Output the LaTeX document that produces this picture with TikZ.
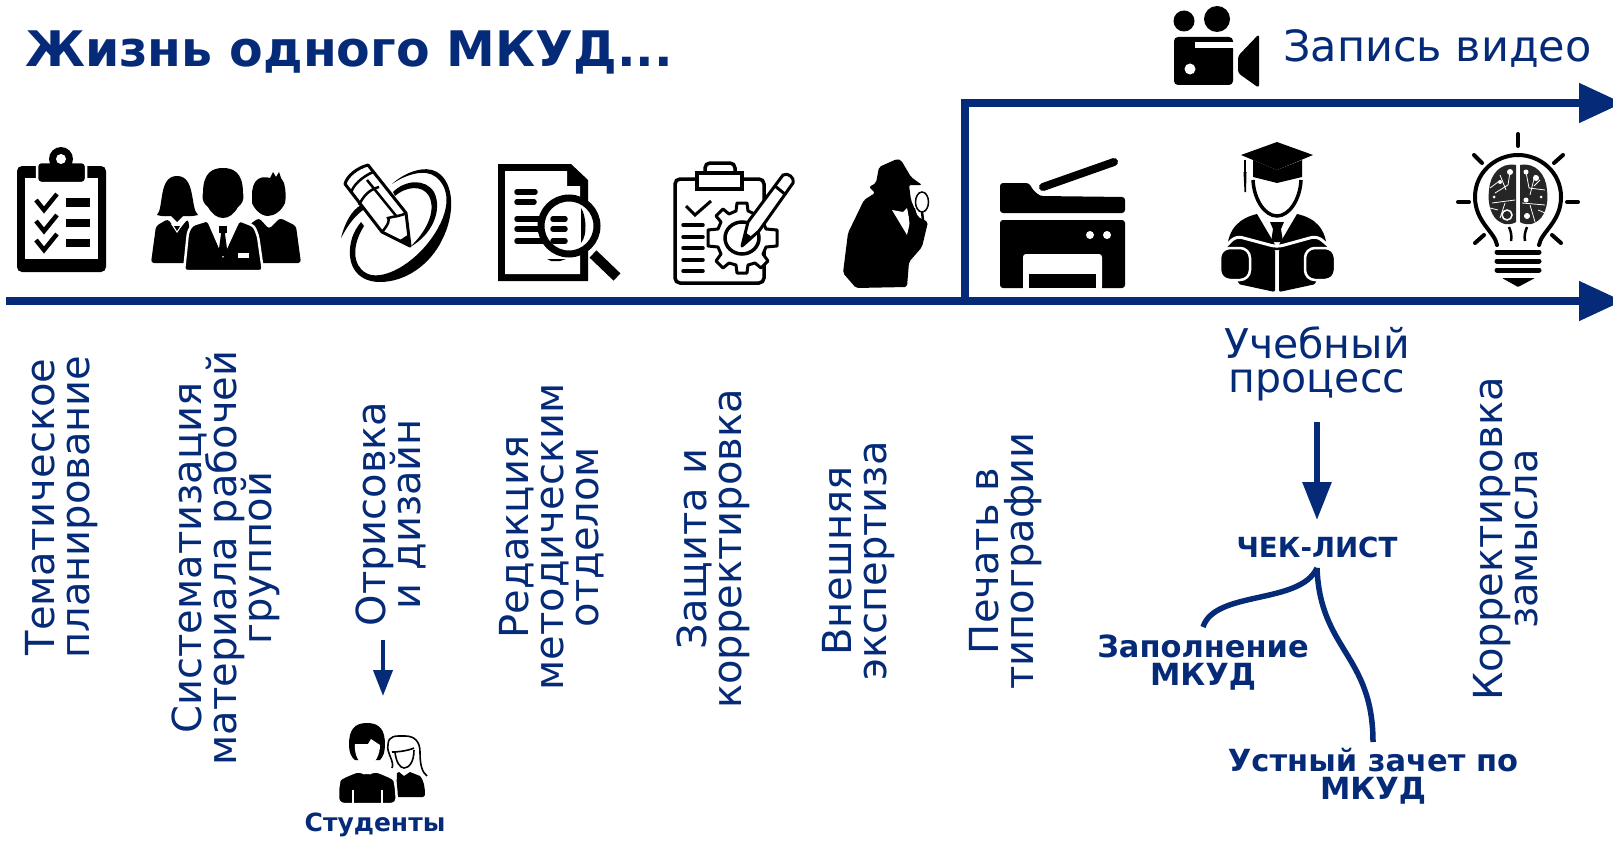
\documentclass[tikz,border=0pt]{standalone}
\usepackage{fontspec}
\setmainfont{DejaVu Sans}
\usetikzlibrary{arrows.meta}
\definecolor{navy}{HTML}{042A78}
\tikzset{
  vlab/.style={rotate=90,align=center,text=navy,inner sep=0pt,execute at begin node={\lineskiplimit=-100pt\relax},font=\fontsize{40}{35}\selectfont},
  hlab/.style={align=center,text=navy,inner sep=0pt,execute at begin node={\lineskiplimit=-100pt\relax},font=\fontsize{41}{34}\selectfont},
  blab/.style={align=center,text=navy,inner sep=0pt,execute at begin node={\lineskiplimit=-100pt\relax},font=\fontsize{30.5}{28}\bfseries\selectfont},
  mainline/.style={draw=navy,line width=8pt,-{Triangle[length=44pt,width=38pt]}},
  downarrow/.style={draw=navy,line width=6pt,-{Triangle[length=38pt,width=28pt]}},
  smallarrow/.style={draw=navy,line width=4pt,-{Triangle[length=26pt,width=19pt]}},
  branch/.style={draw=navy,line width=5.5pt},
  wgap/.style={draw=white,line width=2.5pt,fill=black},
}
\begin{document}
\begin{tikzpicture}[x=1pt,y=-1pt]
\useasboundingbox (0,0) rectangle (1613,840);
% title and labels
\node[anchor=base west,text=navy,inner sep=0pt,font=\fontsize{49}{49}\bfseries\selectfont] (title) at (25,67) {Жизнь одного МКУД...};
\node[anchor=west,text=navy,inner sep=0pt,font=\fontsize{43}{43}\selectfont] (video) at (1283,49) {Запись видео};
\node[vlab] (l1) at (62,507) {Тематическое\\планирование};
\node[vlab] (l2) at (226,558) {Систематизация\\материала рабочей\\группой};
\node[vlab] (l3) at (391,514) {Отрисовка\\и дизайн};
\node[vlab] (l4) at (552,537) {Редакция\\методическим\\отделом};
\node[vlab] (l5) at (713,549) {Защита и\\корректировка};
\node[vlab] (l6) at (859,561) {Внешняя\\экспертиза};
\node[vlab] (l7) at (1006,561) {Печать в\\типографии};
\node[vlab] (l8) at (1506,539) {Корректировка\\замысла};
\node[hlab] (proc) at (1317,364) {Учебный\\процесс};
\node[blab,font=\fontsize{27.7}{28}\bfseries\selectfont] (chek) at (1317,547) {ЧЕК-ЛИСТ};
\node[blab] (zap) at (1203,663) {Заполнение\\МКУД};
\node[blab] (ust) at (1373,776) {Устный зачет по\\МКУД};
\node[text=navy,inner sep=0pt,font=\fontsize{25}{25}\bfseries\selectfont] (stud) at (375,825) {Студенты};
% main lines
\coordinate (a0) at (6,301);
\coordinate (a1) at (1623,301);
\coordinate (b0) at (965,301);
\coordinate (b1) at (965,103);
\coordinate (b2) at (1623,103);
\draw[mainline] (a0) -- (a1);
\draw[mainline] (b0) -- (b1) -- (b2);
% connectors
\coordinate (p1) at (1317,422);
\coordinate (p2) at (1317,520);
\draw[downarrow] (p1) -- (p2);
\coordinate (c0) at (1317,568);
\coordinate (c1) at (1203,627);
\coordinate (c2) at (1373,742);
\draw[branch] (c1) .. controls (1215,590) and (1300,605) .. (c0);
\draw[branch] (c0) .. controls (1320,650) and (1373,655) .. (c2);
\coordinate (s1) at (383,640);
\coordinate (s2) at (383,696);
\draw[smallarrow] (s1) -- (s2);
% ---- video camera
\fill (1184,21) circle[radius=10.5];
\fill (1217,19) circle[radius=13];
\fill[rounded corners=4pt] (1174,37) rectangle (1233,85);
\fill[white] (1195,42) rectangle (1234,48);
\fill[white] (1190,69) circle[radius=5.5];
\fill[rounded corners=3pt] (1238,56) -- (1259,34) -- (1259,88) -- (1238,73) -- cycle;
% ---- clipboard
\fill[rounded corners=5pt] (17,166) rectangle (106,272);
\fill[white] (25,178) rectangle (98,259);
\draw[wgap,rounded corners=4pt] (37,162) rectangle (86,183);
\fill (61,159) circle[radius=12];
\fill[white] (61,159) circle[radius=5];
\foreach \yy in {193,214,233}{
  \draw[line width=4.5pt] (36,\yy+7) -- (44,\yy+17) -- (57,\yy+1);
}
\fill (66,198) rectangle (90,207);
\fill (66,219) rectangle (90,227);
\fill (66,239) rectangle (90,247);
% ---- three people
\fill[rounded corners=3pt] (151,263) -- (156,226) -- (168,219) -- (177,232) -- (188,219) -- (195,263) -- cycle;
\fill[rounded corners=3pt] (253,263) -- (250,224) -- (259,218) -- (269,229) -- (280,218) -- (296,226) -- (301,263) -- cycle;
\fill[white] (171,224) -- (177,233) -- (183,224) -- cycle;
\fill (174,226) -- (177,231) -- (180,226) -- cycle;
\fill (157,215) .. controls (164,208) and (158,176) .. (177,176) .. controls (196,176) and (190,208) .. (198,215) .. controls (190,217) and (186,216) .. (183,216) -- (177,222) -- (171,216) .. controls (168,216) and (164,217) .. (157,215) -- cycle;
\fill (252,195) .. controls (252,180) and (260,175) .. (270,178) -- (273,172) -- (276,177) -- (279,172) -- (281,178) -- (284,183) .. controls (286,190) and (286,198) .. (285,203) .. controls (282,210) and (275,216) .. (268,216) .. controls (260,216) and (254,208) .. (252,203) -- cycle;
\draw[wgap,rounded corners=3pt] (184,271) -- (188,232) -- (192,225) -- (208,220) -- (223,254) -- (239,220) -- (254,226) -- (258,236) -- (263,271) -- cycle;
\fill (203,193) .. controls (203,172) and (213,168) .. (223,168) .. controls (233,168) and (243,172) .. (243,193) .. controls (245,200) and (241,205) .. (238,207) .. controls (234,214) and (229,218) .. (223,218) .. controls (217,218) and (212,214) .. (208,207) .. controls (205,205) and (201,200) .. (203,193) -- cycle;
\fill[white] (208,221) -- (223,258) -- (239,221) -- (230,218) -- (216,218) -- cycle;
\fill (219,228) -- (227,228) -- (225,234) -- (228,256) -- (218,256) -- (221,234) -- cycle;
\fill (219,226) rectangle (227,233);
\fill[white] (238,253) rectangle (249,258);
% ---- pencil and loop
\fill (392,184) .. controls (405,172) and (425,165) .. (437,172) .. controls (455,183) and (455,215) .. (442,240) .. controls (430,265) and (405,282) .. (380,282) .. controls (355,282) and (345,262) .. (352,238) .. controls (354,232) and (357,227) .. (361,222) -- (364,226) .. controls (352,245) and (352,265) .. (366,273) .. controls (380,281) and (408,268) .. (428,243) .. controls (450,215) and (452,190) .. (436,177) .. controls (425,168) and (405,175) .. (392,184) -- cycle;
\fill (393,192) .. controls (405,180) and (425,178) .. (434,192) .. controls (443,210) and (432,235) .. (410,247) .. controls (425,233) and (437,212) .. (429,196) .. controls (422,184) and (405,187) .. (395,196) -- cycle;
\fill (341,238) .. controls (345,222) and (352,210) .. (361,205) -- (366,208) .. controls (355,215) and (348,225) .. (341,238) -- cycle;
\draw[line width=3pt,fill=white,line join=round] (345,184) .. controls (347,176) and (357,168) .. (368,165) -- (406,213) -- (410,246) -- (382,232) -- cycle;
\draw[line width=2.5pt] (351,193) .. controls (353,185) and (362,177) .. (373,172);
\draw[line width=2.5pt] (359,205) .. controls (363,197) and (368,190) .. (379,187);
\draw[line width=2.5pt] (367,180) -- (397,217);
\draw[line width=2.5pt] (382,232) .. controls (388,225) and (390,220) .. (388,218) .. controls (395,216) and (402,216) .. (406,213);
\fill (400,240) -- (410,247) -- (409,234) -- cycle;
% ---- document with magnifier
\fill (498,164) -- (571,164) -- (588,180) -- (588,281) -- (498,281) -- cycle;
\fill[white] (505,171) -- (567,171) -- (567,186) -- (580,186) -- (580,274) -- (505,274) -- cycle;
\begin{scope}[line width=5.5pt,line cap=round]
\draw (517,192) -- (535,192);
\draw (517,202) -- (534,202);
\draw (517,219) -- (550,219);
\draw (517,229) -- (550,229);
\draw (517,241) -- (550,241);
\end{scope}
\draw[line width=10pt] (593,254) -- (617,277);
\draw[line width=7pt,fill=white] (569,226) ellipse[x radius=28,y radius=28];
\begin{scope}[line width=5.5pt,line cap=round]
\draw (553,219) -- (565,219);
\draw (553,229) -- (565,229);
\draw (553,241) -- (565,241);
\end{scope}
\fill (581,208) .. controls (586,215) and (588,235) .. (581,243) -- cycle;
\fill (547,259) -- (566,259) -- (560,261) -- (551,261) -- cycle;
% ---- clipboard with gear
\draw[line width=3.5pt,rounded corners=5pt] (675,179) rectangle (764,283);
\draw[line width=3.5pt,fill=white] (697,173) rectangle (742,189);
\draw[line width=3.5pt,rounded corners=5pt] (705,173) -- (705,163) -- (735,163) -- (735,173);
\draw[line width=3pt] (686,206) -- (695,215) -- (711,201);
\begin{scope}[line width=3.5pt,line cap=round]
\foreach \yy in {225,237,248,260,271}{\draw (683,\yy) -- (703,\yy);}
\end{scope}
\draw[line width=3pt,fill=white,line join=round]
 (737,203) -- (747,203) -- (748,211) -- (755,214) -- (761,209) -- (768,216) -- (763,222) -- (766,229) -- (777,230) -- (777,246) -- (766,247) -- (763,254) -- (768,261) -- (761,268) -- (755,263) -- (748,265) -- (747,273) -- (737,273) -- (736,265) -- (729,263) -- (723,268) -- (716,261) -- (721,254) -- (718,247) -- (708,246) -- (708,230) -- (718,229) -- (721,222) -- (716,216) -- (723,209) -- (729,214) -- (736,211) -- cycle;
\draw[line width=3.5pt] (742,238) ellipse[x radius=17,y radius=16];
\draw[line width=3pt,fill=white,line join=round] (742,246) -- (748,222) -- (783,175) .. controls (788,172) and (795,178) .. (793,183) -- (759,231) -- cycle;
\draw[line width=3pt] (775,186) -- (786,195);
\fill (742,246) -- (746,233) -- (752,237) -- cycle;
% ---- detective
\fill[rounded corners=2pt] (897,159) -- (879,167) -- (876,183) -- (869,187) -- (875,193) -- (864,200) -- (848,233) -- (843,273) -- (856,288) -- (907,287) -- (909,262) -- (922,247) -- (928,222) -- (918,217) -- (911,200) -- (909,185) -- (922,185) -- (911,177) -- (901,160) -- cycle;
\fill[white] (892,210) -- (907,235) -- (910,222) -- (907,208) -- (903,212) -- cycle;
\fill (908,209) -- (915,208) -- (918,222) -- (910,228) -- cycle;
\draw[line width=1.5pt,fill=white] (922,202) ellipse[x radius=6.5,y radius=10];
\draw[line width=2.5pt] (922,212) -- (923,220);
% ---- printer
\fill[rounded corners=3pt] (1000,213) -- (1000,183) -- (1029,183) -- (1033,190) -- (1040,196) -- (1125,197) -- (1125,213) -- cycle;
\draw[line width=8pt,line cap=round] (1043,187) -- (1114,162);
\fill[rounded corners=3pt] (1000,220) -- (1125,220) -- (1125,288) -- (1000,288) -- cycle;
\fill[white,rounded corners=3pt] (1023,289) -- (1023,254) -- (1102,254) -- (1102,289) -- cycle;
\fill[white] (1023,284) rectangle (1102,289);
\fill (1029,274) rectangle (1096,288);
\fill[white] (1090,235) circle[radius=4];
\fill[white] (1107,235) circle[radius=4];
% ---- graduate reader
\fill (1241,155) -- (1277,142) -- (1313,155) -- (1277,170) -- cycle;
\fill (1253,160) -- (1253,177) -- (1277,183) -- (1302,177) -- (1302,160) -- (1277,170) -- cycle;
\draw[line width=1.5pt] (1245,160) -- (1245,172);
\fill (1243.5,172) -- (1246.5,172) -- (1246,192) -- (1244.5,192) -- cycle;
\draw[line width=3.5pt] (1253,180) .. controls (1254,200) and (1265,216) .. (1277,216) .. controls (1289,216) and (1300,200) .. (1301,180);
\fill (1227,250) .. controls (1228,228) and (1240,218) .. (1257,214) -- (1277,248) -- (1297,214) .. controls (1315,218) and (1326,228) .. (1327,250) -- cycle;
\fill (1270,222) -- (1284,222) -- (1281,229) -- (1283,242) -- (1271,242) -- (1273,229) -- cycle;
\draw[white,line width=3pt,rounded corners=6pt] (1225,247) -- (1236,236) -- (1277,247) -- (1317,236) -- (1330,247);
\fill[rounded corners=2pt] (1236,239) -- (1275,249) -- (1275,292) -- (1238,284) -- cycle;
\fill[rounded corners=2pt] (1318,239) -- (1279,249) -- (1279,292) -- (1316,284) -- cycle;
\draw[wgap,rounded corners=10pt] (1220,248) rectangle (1250,280);
\draw[wgap,rounded corners=10pt] (1305,248) rectangle (1335,280);
% ---- bulb
\begin{scope}[line cap=round]
\draw[line width=4pt] (1518,134) -- (1518,146);
\draw[line width=4pt] (1458,202) -- (1469,202);
\draw[line width=4pt] (1567,202) -- (1578,202);
\draw[line width=4pt] (1474,155) -- (1482,163);
\draw[line width=4pt] (1563,155) -- (1554,163);
\draw[line width=4pt] (1475,243) -- (1484,235);
\draw[line width=4pt] (1561,243) -- (1552,235);
\draw[line width=4pt] (1497,245) .. controls (1495,232) and (1475,222) .. (1475,197) .. controls (1475,172) and (1496,155) .. (1518,155) .. controls (1540,155) and (1561,172) .. (1561,197) .. controls (1561,222) and (1541,232) .. (1539,245);
\draw[line width=5pt] (1497,252) -- (1539,252);
\draw[line width=5pt] (1497,261) -- (1539,261);
\draw[line width=5pt] (1497,270) -- (1539,270);
\end{scope}
\fill[rounded corners=1pt] (1502,278) -- (1535,278) -- (1518,287) -- cycle;
\fill[black!85] (1516,165) .. controls (1500,162) and (1490,175) .. (1489,190) .. controls (1487,205) and (1492,218) .. (1500,222) .. controls (1505,226) and (1514,224) .. (1516,222) -- cycle;
\fill[black!85] (1520,165) .. controls (1536,162) and (1546,175) .. (1547,190) .. controls (1549,205) and (1544,218) .. (1536,222) .. controls (1531,226) and (1522,224) .. (1520,222) -- cycle;
\draw[line width=2.5pt] (1509,227) .. controls (1511,232) and (1512,236) .. (1511,241);
\draw[line width=2.5pt] (1527,227) .. controls (1525,232) and (1524,236) .. (1525,241);
\begin{scope}[white,line width=0.8pt]
\draw (1510,172) -- (1508,185) -- (1495,193);
\draw (1500,175) -- (1506,190);
\draw (1498,182) -- (1490,188);
\draw (1515,200) -- (1492,203);
\draw (1505,203) -- (1500,218);
\draw (1498,210) -- (1490,208);
\draw (1526,172) -- (1529,188) -- (1545,190);
\draw (1535,175) -- (1530,195);
\draw (1540,180) -- (1534,186);
\draw (1522,203) -- (1545,205);
\draw (1530,205) -- (1535,222);
\draw (1538,210) -- (1545,213);
\fill[white] (1510,172) circle[radius=3];
\fill[white] (1526,172) circle[radius=2.5];
\fill[white] (1536,178) circle[radius=3];
\fill[white] (1526,200) circle[radius=2.5];
\fill[white] (1527,216) circle[radius=3];
\fill[white] (1500,182) circle[radius=2];
\fill[white] (1494,197) circle[radius=1.5];
\fill[white] (1541,197) circle[radius=1.5];
\draw[line width=1.5pt] (1507,215) circle[radius=5];
\end{scope}
% ---- students
\fill (349,745) .. controls (349,730) and (354,723) .. (367,723) .. controls (380,723) and (385,730) .. (385,745) .. controls (385,752) and (383,757) .. (380,760) -- (355,760) .. controls (351,757) and (349,752) .. (349,745) -- cycle;
\fill[white] (355,744) -- (368,744) -- (371,739) -- (380,745) .. controls (380,755) and (375,765) .. (367,765) .. controls (359,765) and (354,755) .. (355,744) -- cycle;
\draw[line width=1.6pt] (392,768) .. controls (395,762) and (386,752) .. (388,745) .. controls (388,735) and (396,736) .. (405,736) .. controls (415,736) and (420,742) .. (420,752) .. controls (420,765) and (422,772) .. (427,776);
\draw[line width=1.6pt] (392,752) .. controls (400,752) and (410,750) .. (414,748);
\draw[line width=1.6pt] (395,752) .. controls (396,762) and (400,768) .. (404,768) .. controls (409,768) and (414,762) .. (414,750);
\fill (397,773) -- (399,772) -- (404,776) -- (410,772) -- (420,776) .. controls (424,780) and (425,788) .. (425,795) -- (423,797) -- (396,797) -- cycle;
\draw[wgap,rounded corners=6pt] (338,804) -- (338,786) .. controls (340,778) and (348,775) .. (360,770) -- (367,775) -- (374,770) .. controls (386,775) and (394,778) .. (396,786) -- (397,804) -- cycle;
\fill[white] (352,790) rectangle (354,804);
\fill[white] (381,790) rectangle (383,804);
\end{tikzpicture}
\end{document}
